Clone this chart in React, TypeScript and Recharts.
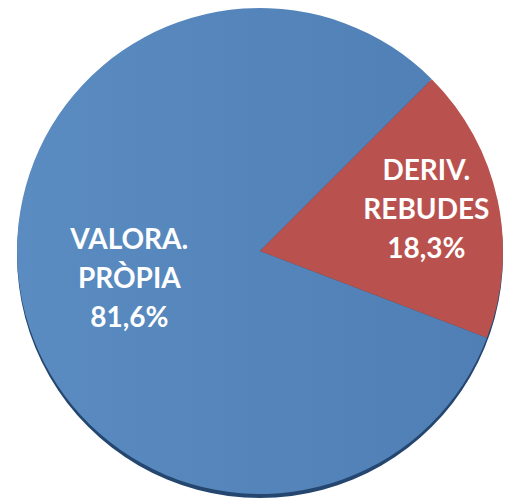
import React from "react";
import { PieChart, Pie, Cell } from "recharts";

const categories = ["VALORA. PRÒPIA", "DERIV. REBUDES"];
const shares = [81.6, 18.3];
const shareLabels = ["81,6%", "18,3%"];
const labelLines = [["VALORA.", "PRÒPIA"], ["DERIV.", "REBUDES"]];

const data = categories.map((name, i) => ({ name, value: shares[i] }));
const rimData = [{ name: "rim", value: 1 }];

const RADIAN = Math.PI / 180;

const renderLabel = (props: any) => {
  const { cx, cy, midAngle, outerRadius, index } = props;
  const r = outerRadius * (index === 0 ? 0.55 : 0.7);
  const x = cx + r * Math.cos(-midAngle * RADIAN);
  const y = cy + r * Math.sin(-midAngle * RADIAN) + (index === 0 ? -2 : -8);
  const lines = [...labelLines[index], shareLabels[index]];
  const gap = 39;
  return (
    <text
      x={x}
      y={y}
      fill="#ffffff"
      textAnchor="middle"
      fontFamily="Lato, 'Open Sans', sans-serif"
      fontWeight={700}
      fontSize={28}
    >
      {lines.map((l, k) => (
        <tspan key={k} x={x} y={y + (k - 1) * gap} dominantBaseline="central">
          {l}
        </tspan>
      ))}
    </text>
  );
};

export default function App() {
  return (
    <div style={{ position: "absolute", left: 0, top: 0, width: 511, height: 500, background: "#ffffff" }}>
      <PieChart width={511} height={500} margin={{ top: 0, right: 0, bottom: 0, left: 0 }}>
        <defs>
          <linearGradient id="blueFill" x1="0" y1="0" x2="1" y2="0">
            <stop offset="0%" stopColor="#5A8BC1" />
            <stop offset="100%" stopColor="#4F7FB4" />
          </linearGradient>
        </defs>
        <Pie
          data={rimData}
          dataKey="value"
          cx={260}
          cy={255}
          outerRadius={243}
          stroke="none"
          fill="#24466F"
          isAnimationActive={false}
        />
        <Pie
          data={data}
          dataKey="value"
          cx={260}
          cy={251}
          outerRadius={243}
          startAngle={45}
          endAngle={405}
          stroke="none"
          labelLine={false}
          label={renderLabel}
          isAnimationActive={false}
        >
          <Cell fill="url(#blueFill)" />
          <Cell fill="#B9524E" />
        </Pie>
      </PieChart>
    </div>
  );
}
